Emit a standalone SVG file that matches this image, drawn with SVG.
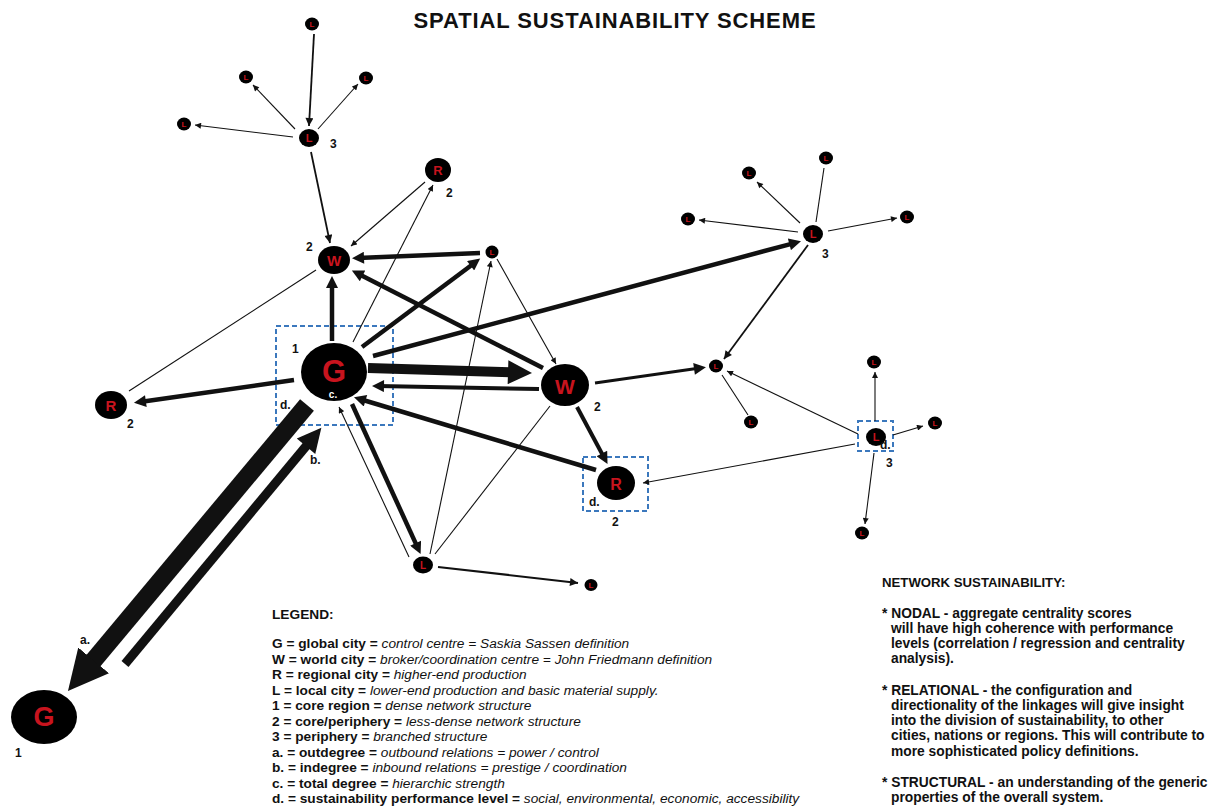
<svg xmlns="http://www.w3.org/2000/svg" width="1220" height="807" viewBox="0 0 1220 807">
  <style>
    .node { fill: #000; }
    .lbl { fill: #c8141e; font-family: "Liberation Sans", Arial, sans-serif; font-weight: bold; text-anchor: middle; dominant-baseline: central; }
    .num { fill: #111; font-family: "Liberation Sans", Arial, sans-serif; font-weight: bold; font-size: 12px; }
    .box { fill: none; stroke: #3b78bd; stroke-width: 2; stroke-dasharray: 5 3; }
    .ln { fill: none; stroke: #111; stroke-linecap: butt; }
    .thin { stroke-width: 1.1; }
    .med { stroke-width: 1.8; }
    .thick { stroke-width: 4.5; }
    .title { font-family: "Liberation Sans", Arial, sans-serif; font-weight: bold; font-size: 22px; letter-spacing: 0.9px; fill: #111; text-anchor: middle; }
    .legend { font-family: "Liberation Sans", Arial, sans-serif; font-size: 13.7px; fill: #111; }
    .legend .b { font-weight: bold; }
    .legend .i { font-style: italic; }
    .notes { font-family: "Liberation Sans", Arial, sans-serif; font-size: 13.8px; font-weight: bold; fill: #111; }
    .notes .head { font-size: 13.2px; }
  </style>
  <defs>
    <marker id="tip-s" markerUnits="userSpaceOnUse" markerWidth="7" markerHeight="6" viewBox="0 0 10 10" refX="10" refY="5" orient="auto">
      <path d="M0,0 L10,5 L0,10 z" fill="#111"/>
    </marker>
    <marker id="tip-sm" markerUnits="userSpaceOnUse" markerWidth="9" markerHeight="8" viewBox="0 0 10 10" refX="10" refY="5" orient="auto">
      <path d="M0,0 L10,5 L0,10 z" fill="#111"/>
    </marker>
    <marker id="head-m" markerUnits="userSpaceOnUse" markerWidth="14" markerHeight="12" viewBox="0 0 10 10" refX="5" refY="5" orient="auto">
      <path d="M0,0 L10,5 L0,10 z" fill="#111"/>
    </marker>
    <marker id="head-l" markerUnits="userSpaceOnUse" markerWidth="26" markerHeight="24" viewBox="0 0 10 10" refX="5" refY="5" orient="auto">
      <path d="M0,0 L10,5 L0,10 z" fill="#111"/>
    </marker>
    <marker id="head-xl" markerUnits="userSpaceOnUse" markerWidth="40" markerHeight="48" viewBox="0 0 10 10" refX="5" refY="5" orient="auto">
      <path d="M0,0 L10,5 L0,10 z" fill="#111"/>
    </marker>
  </defs>

  <rect width="1220" height="807" fill="#fff"/>

  <text class="title" x="615" y="28">SPATIAL SUSTAINABILITY SCHEME</text>

  <!-- performance-level boxes -->
  <g id="boxes">
    <rect class="box" x="276" y="326" width="117" height="99"/>
    <rect class="box" x="583" y="457" width="65" height="54"/>
    <rect class="box" x="858" y="421" width="35" height="30"/>
  </g>

  <!-- connectors -->
  <g id="connectors">
    <!-- upper periphery cluster -->
    <line class="ln med" x1="314" y1="34" x2="309" y2="126" marker-end="url(#tip-sm)"/>
    <line class="ln thin" x1="295" y1="129" x2="253" y2="85" marker-end="url(#tip-s)"/>
    <line class="ln thin" x1="318" y1="129" x2="358" y2="84" marker-end="url(#tip-s)"/>
    <line class="ln thin" x1="293" y1="137" x2="195" y2="125" marker-end="url(#tip-s)"/>
    <line class="ln med" x1="311" y1="152" x2="330" y2="243" marker-end="url(#tip-sm)"/>

    <!-- links around the upper W -->
    <line class="ln thin" x1="425" y1="182" x2="351" y2="246" marker-end="url(#tip-s)"/>
    <line class="ln thin" x1="353" y1="342" x2="433" y2="185" marker-end="url(#tip-s)"/>
    <line class="ln thin" x1="129" y1="391" x2="316" y2="270"/>
    <line class="ln thick" x1="480" y1="253" x2="358" y2="258" marker-end="url(#head-m)"/>
    <line class="ln thick" x1="332" y1="341" x2="332" y2="282" marker-end="url(#head-m)"/>
    <line class="ln thick" x1="362" y1="347" x2="475.4" y2="262.2" marker-end="url(#head-m)"/>
    <line class="ln thick" x1="543" y1="368" x2="357.2" y2="273.2" marker-end="url(#head-m)"/>
    <line class="ln thick" x1="373" y1="356" x2="795.2" y2="242.8" marker-end="url(#head-m)"/>

    <!-- core links -->
    <line class="ln" stroke-width="10" x1="368" y1="368" x2="520" y2="372.6" marker-end="url(#head-l)"/>
    <line class="ln" stroke-width="4" x1="539" y1="389" x2="378" y2="386" marker-end="url(#head-m)"/>
    <line class="ln thick" x1="294" y1="380" x2="139.9" y2="402" marker-end="url(#head-m)"/>
    <line class="ln thick" x1="596" y1="470" x2="359.7" y2="399" marker-end="url(#head-m)"/>
    <line class="ln" stroke-width="4" x1="577" y1="407" x2="604.7" y2="458.8" marker-end="url(#head-m)"/>
    <line class="ln thick" x1="352" y1="404" x2="418.1" y2="548.6" marker-end="url(#head-m)"/>
    <line class="ln thin" x1="409" y1="557" x2="339" y2="407" marker-end="url(#tip-s)"/>
    <line class="ln thin" x1="497" y1="259" x2="556" y2="364" marker-end="url(#tip-s)"/>
    <line class="ln thin" x1="430" y1="554" x2="491" y2="261" marker-end="url(#tip-s)"/>
    <line class="ln thin" x1="435" y1="554" x2="550" y2="406"/>
    <line class="ln" stroke-width="2.2" x1="438" y1="567" x2="578" y2="583" marker-end="url(#tip-sm)"/>

    <!-- outdegree / indegree to the outer G -->
    <line class="ln" stroke-width="18" x1="307" y1="405" x2="80.8" y2="675.7" marker-end="url(#head-xl)"/>
    <line class="ln" stroke-width="9" x1="125" y1="664" x2="313.7" y2="437" marker-end="url(#head-l)"/>

    <!-- right periphery -->
    <line class="ln" stroke-width="3" x1="595" y1="383" x2="700" y2="368" marker-end="url(#head-m)"/>
    <line class="ln med" x1="808" y1="245" x2="724" y2="359" marker-end="url(#tip-sm)"/>
    <line class="ln thin" x1="800" y1="223" x2="757" y2="182" marker-end="url(#tip-s)"/>
    <line class="ln thin" x1="816" y1="222" x2="824" y2="168"/>
    <line class="ln thin" x1="798" y1="232" x2="699" y2="220" marker-end="url(#tip-s)"/>
    <line class="ln thin" x1="828" y1="231" x2="897" y2="218" marker-end="url(#tip-s)"/>
    <line class="ln thin" x1="722" y1="375" x2="748" y2="415"/>
    <line class="ln thin" x1="858" y1="434" x2="727" y2="371" marker-end="url(#tip-s)"/>
    <line class="ln thin" x1="855" y1="444" x2="643" y2="483" marker-end="url(#tip-s)"/>
    <line class="ln thin" x1="875" y1="421" x2="875" y2="372" marker-end="url(#tip-s)"/>
    <line class="ln thin" x1="893" y1="435" x2="923" y2="426" marker-end="url(#tip-s)"/>
    <line class="ln thin" x1="874" y1="453" x2="865" y2="524" marker-end="url(#tip-s)"/>
  </g>

  <!-- nodes -->
  <g id="g-core">
    <ellipse class="node" cx="334" cy="372" rx="33" ry="29"/>
    <text class="lbl" x="334" y="371" font-size="31">G</text>
    <text x="333" y="398" font-family="Liberation Sans, Arial, sans-serif" font-weight="bold" font-size="10" fill="#fff" text-anchor="middle">c.</text>
    <text class="num" x="292" y="353">1</text>
    <text class="num" x="280" y="409">d.</text>
  </g>
  <g id="g-outer">
    <ellipse class="node" cx="44" cy="717" rx="33" ry="27"/>
    <text class="lbl" x="44" y="717" font-size="27">G</text>
    <text class="num" x="15" y="757">1</text>
    <text class="num" x="80" y="644">a.</text>
    <text class="num" x="310" y="464">b.</text>
  </g>
  <g id="w-upper">
    <ellipse class="node" cx="334" cy="260" rx="16" ry="14"/>
    <text class="lbl" x="334" y="260" font-size="15">W</text>
    <text class="num" x="306" y="251">2</text>
  </g>
  <g id="w-core">
    <ellipse class="node" cx="565" cy="385" rx="24" ry="21"/>
    <text class="lbl" x="565" y="386" font-size="21">W</text>
    <text class="num" x="594" y="411">2</text>
  </g>
  <g id="r-upper">
    <ellipse class="node" cx="438" cy="170" rx="13" ry="12"/>
    <text class="lbl" x="438" y="170" font-size="13">R</text>
    <text class="num" x="446" y="197">2</text>
  </g>
  <g id="r-west">
    <ellipse class="node" cx="111" cy="405" rx="16" ry="14"/>
    <text class="lbl" x="111" y="405" font-size="15">R</text>
    <text class="num" x="127" y="428">2</text>
  </g>
  <g id="r-south">
    <ellipse class="node" cx="616" cy="483" rx="19" ry="17"/>
    <text class="lbl" x="616" y="484" font-size="16">R</text>
    <text class="num" x="589" y="506">d.</text>
    <text class="num" x="612" y="526">2</text>
  </g>
  <g id="l-hub-north">
    <ellipse class="node" cx="309" cy="138" rx="10" ry="9"/>
    <text class="lbl" x="309" y="138" font-size="11">L</text>
    <text class="num" x="330" y="148">3</text>
  </g>
  <g id="l-n1"><ellipse class="node" cx="312" cy="24" rx="7" ry="6.5"/><text class="lbl" x="312" y="24" font-size="8">L</text></g>
  <g id="l-n2"><ellipse class="node" cx="246" cy="77" rx="7" ry="6.5"/><text class="lbl" x="246" y="77" font-size="8">L</text></g>
  <g id="l-n3"><ellipse class="node" cx="366" cy="78" rx="7" ry="6.5"/><text class="lbl" x="366" y="78" font-size="8">L</text></g>
  <g id="l-n4"><ellipse class="node" cx="184" cy="124" rx="7" ry="6.5"/><text class="lbl" x="184" y="124" font-size="8">L</text></g>
  <g id="l-core-north">
    <ellipse class="node" cx="492" cy="252" rx="6.5" ry="6.5"/>
    <text class="lbl" x="492" y="252" font-size="8">L</text>
  </g>
  <g id="l-core-south">
    <ellipse class="node" cx="423" cy="565" rx="10" ry="8.5"/>
    <text class="lbl" x="423" y="565" font-size="10">L</text>
  </g>
  <g id="l-core-se">
    <ellipse class="node" cx="591" cy="585" rx="6.5" ry="6"/>
    <text class="lbl" x="591" y="585" font-size="8">L</text>
  </g>
  <g id="l-hub-east">
    <ellipse class="node" cx="813" cy="234" rx="10" ry="9"/>
    <text class="lbl" x="813" y="234" font-size="11">L</text>
    <text class="num" x="822" y="258">3</text>
  </g>
  <g id="l-e1"><ellipse class="node" cx="749" cy="173" rx="7" ry="6.5"/><text class="lbl" x="749" y="173" font-size="8">L</text></g>
  <g id="l-e2"><ellipse class="node" cx="826" cy="158" rx="7" ry="6.5"/><text class="lbl" x="826" y="158" font-size="8">L</text></g>
  <g id="l-e3"><ellipse class="node" cx="688" cy="219" rx="7" ry="6.5"/><text class="lbl" x="688" y="219" font-size="8">L</text></g>
  <g id="l-e4"><ellipse class="node" cx="907" cy="217" rx="7" ry="6.5"/><text class="lbl" x="907" y="217" font-size="8">L</text></g>
  <g id="l-mid-east">
    <ellipse class="node" cx="716" cy="366" rx="7" ry="6.5"/>
    <text class="lbl" x="716" y="366" font-size="8">L</text>
  </g>
  <g id="l-me1"><ellipse class="node" cx="751" cy="422" rx="7" ry="6.5"/><text class="lbl" x="751" y="422" font-size="8">L</text></g>
  <g id="l-hub-se">
    <ellipse class="node" cx="876" cy="437" rx="10" ry="9"/>
    <text class="lbl" x="876" y="437" font-size="11">L</text>
    <text class="num" x="880" y="449" font-size="10">d.</text>
    <text class="num" x="886" y="467">3</text>
  </g>
  <g id="l-se1"><ellipse class="node" cx="874" cy="362" rx="7" ry="6.5"/><text class="lbl" x="874" y="362" font-size="8">L</text></g>
  <g id="l-se2"><ellipse class="node" cx="935" cy="423" rx="7" ry="6.5"/><text class="lbl" x="935" y="423" font-size="8">L</text></g>
  <g id="l-se3"><ellipse class="node" cx="862" cy="533" rx="7" ry="6.5"/><text class="lbl" x="862" y="533" font-size="8">L</text></g>

  <!-- legend -->
  <g id="legend" class="legend">
    <text x="272" y="619" class="b">LEGEND:</text>
    <text x="272" y="648"><tspan class="b">G = global city = </tspan><tspan class="i">control centre = Saskia Sassen definition</tspan></text>
    <text x="272" y="663.5"><tspan class="b">W = world city = </tspan><tspan class="i">broker/coordination centre = John Friedmann definition</tspan></text>
    <text x="272" y="679"><tspan class="b">R = regional city = </tspan><tspan class="i">higher-end production</tspan></text>
    <text x="272" y="694.5"><tspan class="b">L = local city = </tspan><tspan class="i">lower-end production and basic material supply.</tspan></text>
    <text x="272" y="710"><tspan class="b">1 = core region = </tspan><tspan class="i">dense network structure</tspan></text>
    <text x="272" y="725.5"><tspan class="b">2 = core/periphery = </tspan><tspan class="i">less-dense network structure</tspan></text>
    <text x="272" y="741"><tspan class="b">3 = periphery = </tspan><tspan class="i">branched structure</tspan></text>
    <text x="272" y="756.5"><tspan class="b">a. = outdegree = </tspan><tspan class="i">outbound relations = power / control</tspan></text>
    <text x="272" y="772"><tspan class="b">b. = indegree = </tspan><tspan class="i">inbound relations = prestige / coordination</tspan></text>
    <text x="272" y="787.5"><tspan class="b">c. = total degree = </tspan><tspan class="i">hierarchic  strength</tspan></text>
    <text x="272" y="803"><tspan class="b">d. = sustainability performance level = </tspan><tspan class="i">social, environmental, economic, accessibility</tspan></text>
  </g>

  <!-- network sustainability notes -->
  <g id="notes" class="notes">
    <text x="882" y="587" class="head">NETWORK SUSTAINABILITY:</text>
    <text x="882" y="618">* NODAL - aggregate centrality scores</text>
    <text x="891" y="633">will have high coherence with performance</text>
    <text x="891" y="648">levels (correlation / regression and centrality</text>
    <text x="891" y="663">analysis).</text>
    <text x="882" y="695">* RELATIONAL - the configuration and</text>
    <text x="891" y="710">directionality of the linkages will give insight</text>
    <text x="891" y="725">into the division of sustainability, to other</text>
    <text x="891" y="740">cities, nations or regions. This will contribute to</text>
    <text x="891" y="756">more sophisticated  policy definitions.</text>
    <text x="882" y="787">* STRUCTURAL - an understanding of the generic</text>
    <text x="891" y="802">properties of the overall system.</text>
  </g>
</svg>
